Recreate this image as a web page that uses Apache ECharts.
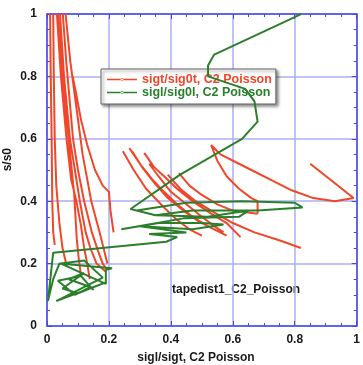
<!DOCTYPE html>
<html><head><meta charset="utf-8">
<script src="https://cdn.jsdelivr.net/npm/echarts@6/dist/echarts.min.js"></script>
<style>html,body{margin:0;padding:0;background:#fff}#c{width:363px;height:365px}</style>
</head><body><div id="c"></div>
<script>
// ---- data ----
var xTicks = [0, 0.2, 0.4, 0.6, 0.8, 1];
var yTicks = [0, 0.2, 0.4, 0.6, 0.8, 1];
var seriesNames = ['sigt/sig0t, C2 Poisson', 'sigl/sig0l, C2 Poisson'];
var titleX = 'sigl/sigt, C2 Poisson';
var titleY = 's/s0';
var note = 'tapedist1_C2_Poisson';

// red curves, left cluster
var redLeft = [
  [[0.010,1.0],[0.012,0.8],[0.015,0.6],[0.017,0.4],[0.020,0.3],[0.025,0.26]],
  [[0.020,1.0],[0.022,0.8],[0.025,0.6],[0.030,0.45],[0.040,0.33],[0.050,0.25],[0.063,0.195]],
  [[0.032,1.0],[0.045,0.8],[0.063,0.6],[0.078,0.47],[0.095,0.40],[0.110,0.32],[0.120,0.25],[0.130,0.20],[0.138,0.15]],
  [[0.035,1.0],[0.050,0.8],[0.070,0.6],[0.080,0.5],[0.088,0.42],[0.092,0.35],[0.096,0.28],[0.102,0.22],[0.110,0.16]],
  [[0.042,1.0],[0.055,0.8],[0.074,0.6],[0.090,0.5],[0.106,0.40],[0.125,0.30],[0.140,0.25],[0.160,0.20],[0.190,0.174]],
  [[0.051,1.0],[0.062,0.85],[0.084,0.6],[0.100,0.5],[0.120,0.40],[0.145,0.30],[0.165,0.24],[0.180,0.20],[0.190,0.185]],
  [[0.060,1.0],[0.075,0.85],[0.095,0.7],[0.115,0.55],[0.143,0.40],[0.170,0.30],[0.185,0.24],[0.195,0.20]],
  [[0.083,0.80],[0.095,0.74],[0.110,0.66],[0.130,0.58],[0.155,0.50],[0.180,0.45],[0.200,0.43],[0.205,0.37],[0.215,0.30]]
];
// red curves, middle / right cluster
var redMid = [
  [[0.245,0.56],[0.28,0.50],[0.32,0.44],[0.378,0.38],[0.42,0.34],[0.46,0.31],[0.50,0.29]],
  [[0.266,0.57],[0.30,0.52],[0.34,0.47],[0.378,0.43],[0.42,0.39],[0.47,0.35],[0.52,0.32],[0.56,0.30]],
  [[0.275,0.56],[0.31,0.505],[0.35,0.455],[0.39,0.41],[0.44,0.37],[0.49,0.335],[0.54,0.31],[0.58,0.29]],
  [[0.314,0.555],[0.345,0.51],[0.378,0.48],[0.42,0.44],[0.47,0.40],[0.53,0.36],[0.58,0.33],[0.625,0.285]],
  [[0.33,0.52],[0.36,0.48],[0.40,0.43],[0.45,0.39],[0.50,0.35],[0.54,0.32],[0.57,0.30]],
  [[0.39,0.485],[0.43,0.44],[0.48,0.40],[0.53,0.37],[0.60,0.33],[0.67,0.30],[0.75,0.275],[0.82,0.25]],
  [[0.426,0.49],[0.46,0.45],[0.50,0.42],[0.55,0.39],[0.60,0.37],[0.68,0.36]],
  [[0.53,0.58],[0.55,0.53],[0.58,0.48],[0.62,0.44],[0.66,0.41],[0.68,0.40],[0.68,0.36]],
  [[0.53,0.58],[0.56,0.55],[0.62,0.52],[0.66,0.50],[0.72,0.47],[0.79,0.435],[0.86,0.41],[0.93,0.40],[0.99,0.41],[0.85,0.52]]
];
// green path
var greenPath = [
  [0.82,1.0],[0.80,0.99],[0.54,0.87],[0.52,0.835],[0.52,0.80],[0.64,0.76],[0.67,0.72],[0.68,0.655],[0.63,0.60],[0.43,0.485],[0.27,0.375],
  [0.35,0.355],[0.29,0.37],[0.45,0.395],[0.63,0.40],[0.80,0.395],[0.825,0.38],[0.68,0.37],[0.47,0.37],[0.35,0.355],[0.52,0.35],[0.65,0.37],[0.62,0.35],[0.44,0.345],[0.24,0.31],[0.36,0.33],[0.50,0.33],[0.57,0.325],[0.47,0.31],[0.30,0.32],[0.45,0.30],[0.33,0.295],[0.42,0.285],[0.385,0.27],
  [0.02,0.235],
  [0.003,0.08],[0.02,0.15],[0.04,0.20],[0.21,0.185],[0.19,0.18],[0.19,0.135],[0.045,0.20],[0.12,0.21],[0.18,0.155],[0.03,0.08],[0.19,0.14],[0.10,0.105],[0.05,0.12],[0.12,0.17],[0.07,0.15],[0.14,0.125],[0.09,0.10],[0.035,0.145],[0.11,0.16],[0.15,0.115]
];

function joinCurves(list){
  var out = [];
  list.forEach(function(c, i){ if (i) out.push(null); c.forEach(function(p){ out.push(p); }); });
  return out;
}
var redData = joinCurves(redLeft.concat(redMid));

var RED = '#f0462a', GREEN = '#2b7f2b', AXIS = '#4646e6', GRID = '#aab0f0';
var FONT = 'Liberation Sans';
var LEGEND_ICON = 'path://M0,1h32v1.6h-32z M14.5,1.8a1.5,1.5 0 1,0 3,0a1.5,1.5 0 1,0 -3,0';
var chart = echarts.init(document.getElementById('c'), null, {renderer: 'canvas'});
function axisCommon(pos, label){
  return {
    type: 'value', min: 0, max: 1, interval: 0.2, position: pos,
    axisLine: {show: true, onZero: false, lineStyle: {color: AXIS, width: 1.5}},
    axisTick: {show: true, inside: true, length: 5, lineStyle: {color: AXIS}},
    minorTick: {show: true, splitNumber: 4, length: 3, lineStyle: {color: AXIS}},
    splitLine: {show: label, lineStyle: {color: GRID, width: 1.5}},
    axisLabel: {show: label, color: '#1a1a1a', fontFamily: FONT, fontWeight: 'bold', fontSize: 12,
      formatter: function(v){ return String(Math.round(v*10)/10); }}
  };
}
var xa = axisCommon('bottom', true); xa.axisLabel.margin = 8;
var xt = axisCommon('top', false);
var ya = axisCommon('left', true); ya.axisLabel.margin = 10;
var yr = axisCommon('right', false);
chart.setOption({
  animation: false,
  backgroundColor: '#fff',
  grid: {left: 47, top: 14, width: 312, height: 312},
  xAxis: [xa, xt],
  yAxis: [ya, yr],
  legend: {
    left: 101, top: 69, orient: 'vertical', itemGap: 0, itemWidth: 30, itemHeight: 3,
    padding: [4, 4, 5, 6],
    icon: LEGEND_ICON,
    backgroundColor: '#fff', borderColor: '#666', borderWidth: 1,
    shadowColor: 'rgba(0,0,0,0.45)', shadowBlur: 3, shadowOffsetX: 2, shadowOffsetY: 2,
    data: [
      {name: seriesNames[0], textStyle: {color: RED}},
      {name: seriesNames[1], textStyle: {color: GREEN}}
    ],
    textStyle: {fontFamily: FONT, fontWeight: 'bold', fontSize: 12.5, lineHeight: 12}
  },
  graphic: [
    {type: 'text', left: 2, top: 148, rotation: Math.PI/2, style: {text: titleY, fill: '#1a1a1a', font: 'bold 12px "Liberation Sans"'}},
    {type: 'text', x: 196, y: 358, style: {text: titleX, fill: '#1a1a1a', font: 'bold 12px "Liberation Sans"', align: 'center', verticalAlign: 'middle'}},
    {type: 'text', x: 172, y: 290, style: {text: note, fill: '#1a1a1a', font: 'bold 12px "Liberation Sans"', verticalAlign: 'middle'}}
  ],
  series: [
    {name: seriesNames[0], type: 'line', data: redData, showSymbol: false, symbol: 'circle', symbolSize: 3,
      connectNulls: false, lineStyle: {color: RED, width: 2}, itemStyle: {color: RED}, z: 3},
    {name: seriesNames[1], type: 'line', data: greenPath, showSymbol: false, symbol: 'circle', symbolSize: 3,
      lineStyle: {color: GREEN, width: 2}, itemStyle: {color: GREEN}, z: 4}
  ]
});
</script></body></html>
